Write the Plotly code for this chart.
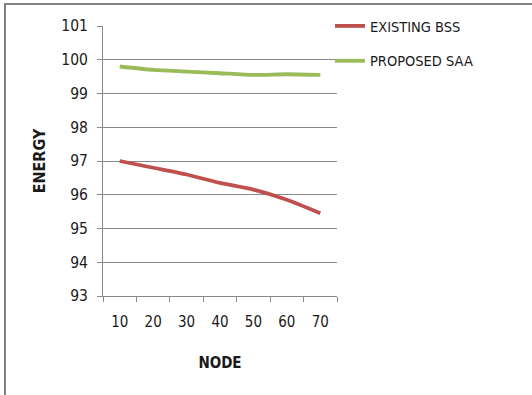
import plotly.graph_objects as go

# Energy remaining per node count for the two schemes
nodes = ["10", "20", "30", "40", "50", "60", "70"]
existing_bss = [97.0, 96.8, 96.6, 96.35, 96.15, 95.85, 95.45]
proposed_saa = [99.8, 99.7, 99.65, 99.6, 99.55, 99.57, 99.55]
y_ticks = [93, 94, 95, 96, 97, 98, 99, 100, 101]

FONT = "DejaVu Sans Condensed, Liberation Sans, Arial, sans-serif"
GRID = "#8a8a8a"

fig = go.Figure()
fig.add_trace(go.Scatter(
    x=nodes, y=existing_bss, name="EXISTING BSS", mode="lines",
    line=dict(color="#C0504D", width=3.8, shape="spline", smoothing=0.6),
    legendgroup="a",
))
fig.add_trace(go.Scatter(
    x=nodes, y=proposed_saa, name="PROPOSED SAA", mode="lines",
    line=dict(color="#9BBB59", width=3.8, shape="spline", smoothing=0.6),
    legendgroup="b",
))

L, R, T, B = 103, 195, 26, 99
W, H = 532, 395
pw, ph = W - L - R, H - T - B

fig.update_layout(
    width=W, height=H,
    margin=dict(l=L, r=R, t=T, b=B, autoexpand=False),
    paper_bgcolor="white", plot_bgcolor="white",
    font=dict(family=FONT, size=15, color="#1a1a1a"),
    showlegend=True,
    legend=dict(
        x=(330 - L) / pw, y=(T + ph - 10) / ph, xanchor="left", yanchor="top",
        font=dict(family=FONT, size=14.5, color="#1a1a1a"),
        traceorder="grouped", tracegroupgap=13,
        bgcolor="rgba(0,0,0,0)", itemwidth=30,
    ),
    xaxis=dict(
        type="category", range=[-0.5, len(nodes) - 0.5],
        tickson="boundaries", ticks="outside", ticklen=5,
        tickcolor=GRID, showline=True, linecolor=GRID, linewidth=1,
        showgrid=False, tickfont=dict(size=15), ticklabelstandoff=12,
        automargin=False,
        title=dict(text="<b>NODE</b>", font=dict(size=15), standoff=27),
    ),
    yaxis=dict(
        range=[93, 101], tickvals=y_ticks, ticks="outside", ticklen=5,
        tickcolor=GRID, showline=True, linecolor=GRID, linewidth=1,
        showgrid=True, gridcolor=GRID, gridwidth=1, zeroline=False,
        tickfont=dict(size=15.5), ticklabelstandoff=6, automargin=False,
        title=dict(text="<b>ENERGY</b>", font=dict(size=16), standoff=11),
    ),
    shapes=[dict(
        type="rect", xref="paper", yref="paper",
        x0=(5 - L) / pw, x1=(W + 10 - L) / pw,
        y0=(T + ph - (H + 10)) / ph, y1=(T + ph - 4) / ph,
        line=dict(color="#808080", width=2), fillcolor="rgba(0,0,0,0)",
        layer="below",
    )],
)

fig.write_html("out.html")
